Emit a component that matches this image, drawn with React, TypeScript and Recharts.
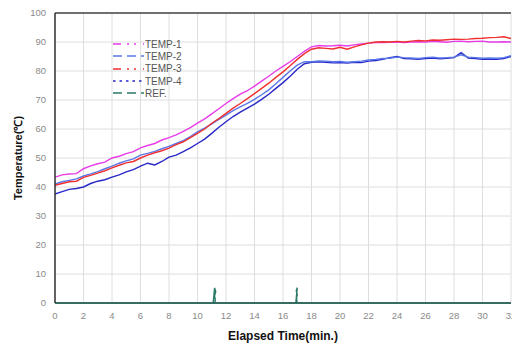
import { LineChart, Line, XAxis, YAxis, CartesianGrid, Legend, ReferenceLine } from "recharts";

// elapsed time (min.), 0.5 min steps
const time = [
  0, 0.5, 1, 1.5, 2, 2.5, 3, 3.5, 4, 4.5, 5, 5.5, 6, 6.5, 7, 7.5, 8, 8.5, 9, 9.5,
  10, 10.5, 11, 11.5, 12, 12.5, 13, 13.5, 14, 14.5, 15, 15.5, 16, 16.5, 17, 17.5,
  18, 18.5, 19, 19.5, 20, 20.5, 21, 21.5, 22, 22.5, 23, 23.5, 24, 24.5, 25, 25.5,
  26, 26.5, 27, 27.5, 28, 28.5, 29, 29.5, 30, 30.5, 31, 31.5, 32,
];

const temp1 = [
  43.4, 44.2, 44.5, 44.6, 46.3, 47.3, 48, 48.6, 50, 50.6, 51.5, 52.2, 53.5, 54.3, 55, 56.2, 57, 58, 59.2, 60.5,
  62, 63.5, 65.2, 67, 68.8, 70.5, 72, 73.2, 74.8, 76.5, 78.2, 80, 81.6, 83.2, 85, 86.8,
  88.3, 88.8, 88.6, 88.7, 88.9, 88.6, 89, 89.3, 89.6, 89.8, 89.8, 89.9, 90, 89.8, 90, 90.1,
  90, 90.2, 90.1, 89.9, 90.2, 90.3, 90.1, 90.2, 90.3, 90, 90, 90.1, 90,
];

const temp2 = [
  41, 41.8, 42.3, 42.8, 43.8, 44.5, 45.3, 46.3, 47.2, 48.2, 49, 49.7, 51, 51.6, 52.3, 53.2, 54, 55, 56, 57.4,
  59, 60.3, 61.8, 63.3, 64.8, 66.3, 67.6, 68.8, 70.2, 71.8, 73.5, 75.6, 77.8, 80, 82, 83.2,
  83.2, 83.5, 83.4, 83.2, 83.3, 83, 83.2, 83.4, 83.8, 84, 84.3, 84.4, 84.8, 84.6, 84.5, 84.3,
  84.6, 84.8, 84.5, 84.6, 84.8, 85.6, 84.8, 84.6, 84.4, 84.5, 84.4, 84.6, 85.3,
];

const temp3 = [
  40.6, 41.2, 41.8, 42, 43.3, 44, 44.8, 45.6, 46.6, 47.5, 48.3, 48.8, 50, 51, 51.8, 52.5, 53.4, 54.6, 55.6, 57,
  58.5, 60, 62, 63.6, 65.4, 67.2, 68.8, 70.5, 72.2, 74, 75.8, 77.8, 79.7, 81.8, 84, 86,
  87.5, 88, 87.8, 87.6, 88.2, 87.5, 88.3, 89, 89.6, 90, 90.1, 90, 90.2, 90, 90.3, 90.5,
  90.4, 90.7, 90.6, 90.8, 91, 90.9, 91, 91.2, 91.3, 91.5, 91.6, 91.8, 91.2,
];

const temp4 = [
  37.6, 38.4, 39.2, 39.5, 40, 41.2, 42, 42.5, 43.4, 44.2, 45.2, 46, 47.2, 48.2, 47.6, 48.8, 50.3, 51, 52.2, 53.5,
  55, 56.5, 58.5, 60.6, 62.5, 64.3, 65.8, 67.2, 68.6, 70.2, 72, 74, 76, 78.2, 80.6, 82.5,
  83, 83.2, 83, 82.8, 82.9, 82.7, 83, 82.9, 83.4, 83.6, 84, 84.6, 85, 84.3, 84.2, 84,
  84.3, 84.5, 84.2, 84.4, 84.6, 86.3, 84.5, 84.3, 84, 84.1, 84, 84.3, 85,
];

// REF channel: flat at 0 with two short glitches
const refTime = [0, 11.1, 11.2, 11.28, 11.2, 11.25, 11.2, 16.9, 17, 16.93, 17, 16.95, 17, 32];
const refValue = [0, 0, 5.2, 4, 2.5, 1, 0, 0, 5.3, 4.2, 3, 1.5, 0, 0];

const xTicks = [0, 2, 4, 6, 8, 10, 12, 14, 16, 18, 20, 22, 24, 26, 28, 30, 32];
const yTicks = [0, 10, 20, 30, 40, 50, 60, 70, 80, 90, 100];

const data = time.map((t, i) => ({
  t,
  temp1: temp1[i],
  temp2: temp2[i],
  temp3: temp3[i],
  temp4: temp4[i],
}));
const refData = refTime.map((t, i) => ({ t, ref: refValue[i] }));

const FONT = "'Liberation Sans', Arial, sans-serif";

const legendItems = [
  { name: "TEMP-1", color: "#e83ce8", dash: "8 6 2 5 2 7" },
  { name: "TEMP-2", color: "#5a78e8", dash: "9 5" },
  { name: "TEMP-3", color: "#f03030", dash: "8 6 2 5 2 7" },
  { name: "TEMP-4", color: "#2828c8", dash: "2.5 4" },
  { name: "REF.", color: "#2a7a68", dash: "9 5" },
];

function LegendBox() {
  return (
    <div style={{ fontFamily: FONT, fontSize: 10, color: "#555" }}>
      {legendItems.map((it) => (
        <div key={it.name} style={{ display: "flex", alignItems: "center", height: 12.3 }}>
          <svg width={31} height={6} style={{ marginRight: 1 }}>
            <line x1={0} y1={3} x2={31} y2={3} stroke={it.color} strokeWidth={1.6} strokeDasharray={it.dash} />
          </svg>
          <span>{it.name}</span>
        </div>
      ))}
    </div>
  );
}

const tickStyle = { fontSize: 9.5, fill: "#8a8a8a", fontFamily: FONT };

export default function App() {
  return (
    <div style={{ position: "fixed", left: 0, top: 0, width: 512, height: 343, overflow: "hidden", background: "#fff" }}>
      <LineChart width={530} height={343} data={data} margin={{ top: 13, right: 19, bottom: 0, left: 0 }}>
        <CartesianGrid stroke="#dedede" strokeWidth={1} />
        <XAxis
          dataKey="t"
          type="number"
          domain={[0, 32]}
          ticks={xTicks}
          tick={tickStyle}
          tickLine={false}
          tickSize={0}
          tickMargin={9}
          height={40}
          axisLine={{ stroke: "#2c5f55", strokeWidth: 1.5 }}
          interval={0}
          allowDataOverflow
          label={(p: any) => {
            const vb = p.viewBox;
            return (
              <text
                x={vb.x + vb.width / 2}
                y={vb.y + 37}
                textAnchor="middle"
                style={{ fontFamily: FONT, fontSize: 12, fontWeight: "bold", fill: "#111" }}
              >
                Elapsed Time(min.)
              </text>
            );
          }}
        />
        <YAxis
          type="number"
          domain={[0, 100]}
          ticks={yTicks}
          tick={tickStyle}
          tickLine={false}
          tickSize={0}
          tickMargin={9}
          width={55}
          interval={0}
          axisLine={{ stroke: "#333", strokeWidth: 1.5 }}
          label={(p: any) => {
            const vb = p.viewBox;
            const cx = vb.x + 18;
            const cy = vb.y + vb.height / 2;
            return (
              <text
                x={cx}
                y={cy}
                textAnchor="middle"
                dominantBaseline="central"
                transform={`rotate(-90 ${cx} ${cy})`}
                style={{ fontFamily: FONT, fontSize: 11, fontWeight: "bold", fill: "#111" }}
              >
                Temperature(℃)
              </text>
            );
          }}
        />
        <ReferenceLine y={100} stroke="#444" strokeWidth={1.5} />
        <Legend
          layout="horizontal"
          verticalAlign="middle"
          align="center"
          wrapperStyle={{ left: 113, top: 38, width: "auto" }}
          content={() => <LegendBox />}
        />
        <Line dataKey="temp4" name="TEMP-4" stroke="#2828c8" strokeWidth={1.4} dot={false} isAnimationActive={false} />
        <Line dataKey="temp2" name="TEMP-2" stroke="#5a78e8" strokeWidth={1.4} dot={false} isAnimationActive={false} />
        <Line dataKey="temp1" name="TEMP-1" stroke="#e83ce8" strokeWidth={1.4} dot={false} isAnimationActive={false} />
        <Line dataKey="temp3" name="TEMP-3" stroke="#f03030" strokeWidth={1.4} dot={false} isAnimationActive={false} />
        <Line data={refData} dataKey="ref" name="REF." stroke="#2a7a68" strokeWidth={1.4} dot={false} isAnimationActive={false} />
      </LineChart>
    </div>
  );
}
